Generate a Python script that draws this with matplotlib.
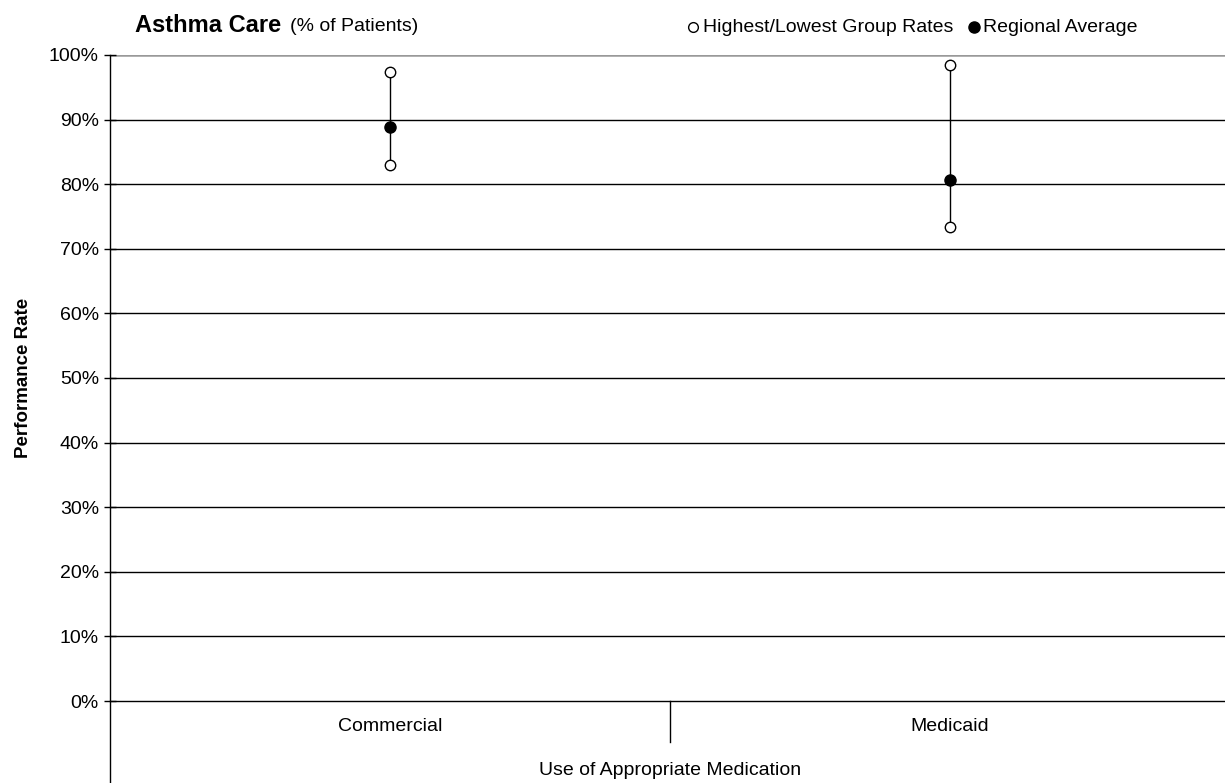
import matplotlib.pyplot as plt
import matplotlib.transforms as mtransforms
from matplotlib.lines import Line2D

plt.rcParams['font.family'] = ['Liberation Sans', 'DejaVu Sans']

# data
categories = ['Commercial', 'Medicaid']
group_label = 'Use of Appropriate Medication'
highest = [97.4, 98.5]
lowest = [83.0, 73.4]
regional_avg = [88.9, 80.7]
y_ticks = list(range(0, 101, 10))

fig = plt.figure(figsize=(12.25, 7.83), dpi=100)
ax = fig.add_axes([0.0898, 0.1047, 0.9143, 0.8251])

xpos = [i + 0.5 for i in range(len(categories))]

ax.vlines(xpos, lowest, highest, color='black', lw=1, zorder=3)
ax.plot(xpos, highest, 'o', ms=7.5, mfc='white', mec='black', mew=1, zorder=4)
ax.plot(xpos, lowest, 'o', ms=7.5, mfc='white', mec='black', mew=1, zorder=4)
ax.plot(xpos, regional_avg, 'o', ms=8, mfc='black', mec='black', zorder=5)

ax.set_xlim(0, len(categories))
ax.set_ylim(0, 100)
ax.set_yticks(y_ticks)
ax.set_yticklabels([f'{v}%' for v in y_ticks], fontsize=14)
ax.tick_params(axis='y', direction='inout', length=8, width=1, pad=4)
ax.set_xticks([])

for v in y_ticks[1:-1]:
    ax.axhline(v, color='black', lw=1, zorder=1)
ax.axhline(100, color='#999999', lw=1.8, zorder=1)

for s in ['top', 'right']:
    ax.spines[s].set_visible(False)
ax.spines['bottom'].set_linewidth(1)
ax.spines['left'].set_visible(False)

# left axis line runs down through the category area
ax.add_line(Line2D([0, 0], [1, -0.13], transform=ax.transAxes, color='black',
                   lw=1, clip_on=False))
# separator between categories
trans = mtransforms.blended_transform_factory(ax.transData, ax.transAxes)
for i in range(1, len(categories)):
    ax.add_line(Line2D([i, i], [0, -0.063], transform=trans, color='black',
                       lw=1, clip_on=False))
for x, c in zip(xpos, categories):
    ax.text(x, -0.040, c, transform=trans, ha='center', va='center', fontsize=14)
ax.text(len(categories) / 2, -0.107, group_label, transform=trans,
        ha='center', va='center', fontsize=14)

ax.set_ylabel('Performance Rate', fontsize=13.5, fontweight='bold', labelpad=12)

fig.text(0.110, 0.968, 'Asthma Care', fontsize=17, fontweight='bold',
         ha='left', va='center')
fig.text(0.2367, 0.966, '(% of Patients)', fontsize=14, ha='left', va='center')

# legend drawn as text + marker in figure coords
fig.lines.append(Line2D([0.566], [0.9655], marker='o', ms=7, mfc='white',
                        mec='black', transform=fig.transFigure))
fig.text(0.574, 0.9655, 'Highest/Lowest Group Rates', fontsize=14,
         ha='left', va='center')
fig.lines.append(Line2D([0.795], [0.9655], marker='o', ms=8, mfc='black',
                        mec='black', transform=fig.transFigure))
fig.text(0.8025, 0.9655, 'Regional Average', fontsize=14, ha='left', va='center')

fig.savefig('out.png', dpi=100)
